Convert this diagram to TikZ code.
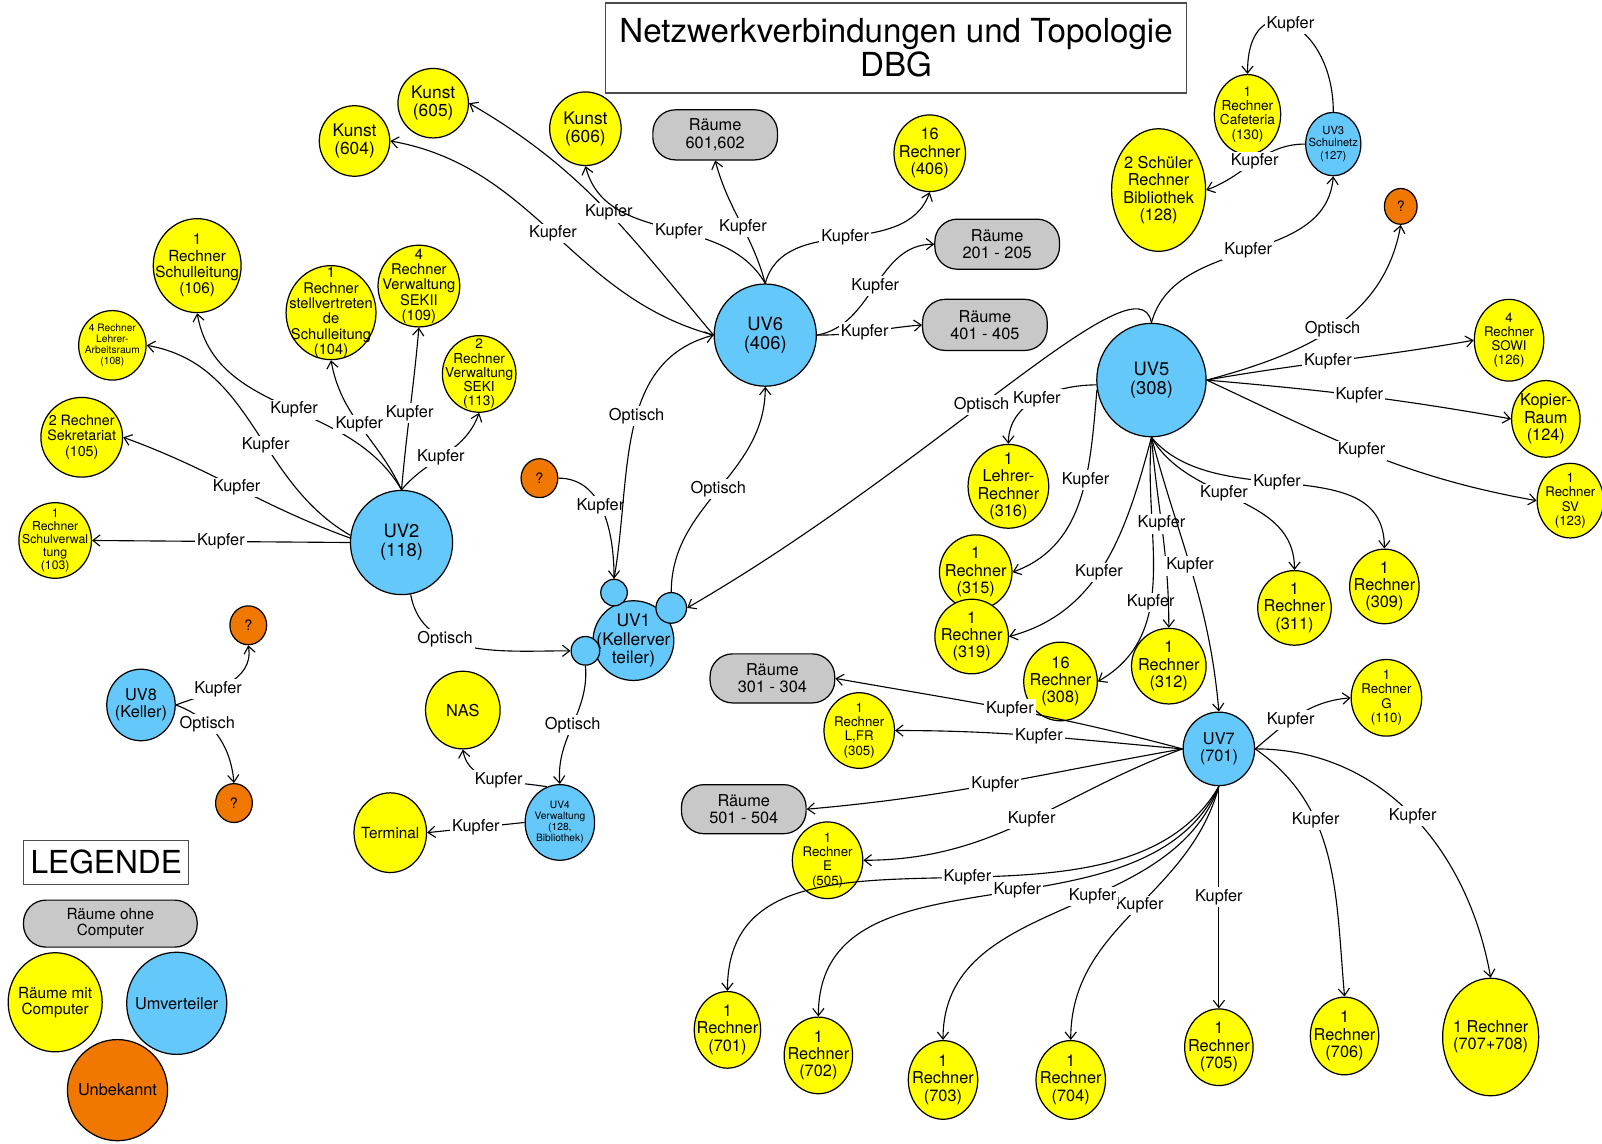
\documentclass[tikz,border=0pt]{standalone}
\usepackage{fontspec}
\setmainfont{TeX Gyre Heros}
\usetikzlibrary{shapes.geometric, arrows.meta}
\definecolor{pcyellow}{RGB}{255,255,0}
\definecolor{uvblue}{RGB}{100,200,250}
\definecolor{unkorange}{RGB}{240,120,0}
\definecolor{roomgray}{RGB}{200,200,200}
\newcommand{\fsz}[2]{\fontsize{#1}{#2}\selectfont}
\tikzset{sz/.style 2 args={minimum width=#1*0.5pt, minimum height=#2*0.5pt}}
\tikzstyle{pc} = [ellipse, draw=black, fill=pcyellow, line width=0.6pt, inner sep=-20pt, align=center, font=\fsz{8}{8.5}]
\tikzstyle{uv} = [pc, fill=uvblue, font=\fsz{9}{9.5}]
\tikzstyle{unk} = [pc, fill=unkorange, font=\fsz{7}{7.5}]
\tikzstyle{room} = [rectangle, rounded corners=11pt, draw=black, fill=roomgray, line width=0.6pt, align=center, font=\fsz{8}{8.5}]
\tikzstyle{boxed} = [rectangle, draw=black!70, line width=0.6pt, align=center]
\tikzstyle{lbl} = [fill=white, inner sep=1pt, font=\fsz{8}{8.5}]
\tikzstyle{link} = [line width=0.55pt, -{Straight Barb[length=3.5pt,width=5.5pt]}]

\begin{document}
\begin{tikzpicture}[x=0.5pt, y=0.5pt]
    \useasboundingbox (0,0) rectangle (1568,-1119);

    % Titel und Legende
    \node[boxed, sz={569}{88}, font=\fsz{16.2}{15.5}] (title)  at (877,-47)   {Netzwerkverbindungen und Topologie\\DBG};
    \node[boxed, sz={158}{43}, font=\fsz{15.5}{16}]   (legend) at (104,-844)  {LEGENDE};
    \node[room, sz={170}{46}, font=\fsz{7.5}{8}]      (leg1)   at (108,-904)  {Räume ohne\\Computer};
    \node[pc, sz={92}{97}, font=\fsz{7.5}{8}]         (leg2)   at (54,-981)   {Räume mit\\Computer};
    \node[uv, sz={98}{100}, font=\fsz{8}{8.5}]        (leg3)   at (173,-982)  {Umverteiler};
    \node[unk, sz={98}{99}, font=\fsz{8}{8.5}]        (leg4)   at (115,-1067) {Unbekannt};

    % Umverteiler
    \node[uv, sz={100}{102}]                          (uv2)  at (393,-531)  {UV2\\(118)};
    \node[uv, sz={100}{100}]                          (uv6)  at (749,-328)  {UV6\\(406)};
    \node[uv, sz={107}{111}]                          (uv5)  at (1127,-372) {UV5\\(308)};
    \node[uv, sz={70}{72}, font=\fsz{8}{8.5}]         (uv7)  at (1193,-733) {UV7\\(701)};
    \node[uv, sz={79}{78}, font=\fsz{8.5}{9}]         (uv1)  at (620,-627)  {UV1\\(Kellerver\\teiler)};
    \node[uv, sz={26}{26}]                            (p1)   at (601,-580)  {};
    \node[uv, sz={30}{30}]                            (p2)   at (657,-595)  {};
    \node[uv, sz={28}{28}]                            (p3)   at (573,-637)  {};
    \node[uv, sz={54}{62}, font=\fsz{5.5}{6}]         (uv3)  at (1305,-141) {UV3\\Schulnetz\\(127)};
    \node[uv, sz={68}{74}, font=\fsz{5}{5.5}]         (uv4)  at (548,-805)  {UV4\\Verwaltung\\(128,\\Bibliothek)};
    \node[uv, sz={67}{70}, font=\fsz{8}{8.5}]         (uv8)  at (138,-690)  {UV8\\(Keller)};

    % Unbekannt
    \node[unk, sz={36}{38}]                           (q1)   at (528,-468)  {?};
    \node[unk, sz={36}{38}]                           (q2)   at (243,-612)  {?};
    \node[unk, sz={36}{38}]                           (q3)   at (229,-786)  {?};
    \node[unk, sz={32}{35}]                           (q4)   at (1371,-202) {?};

    % Räume ohne Computer
    \node[room, sz={122}{49}]                         (r601) at (700,-132)  {Räume\\601,602};
    \node[room, sz={122}{49}]                         (r201) at (976,-239)  {Räume\\201 - 205};
    \node[room, sz={122}{50}]                         (r401) at (964,-318)  {Räume\\401 - 405};
    \node[room, sz={122}{48}]                         (r301) at (756,-664)  {Räume\\301 - 304};
    \node[room, sz={122}{48}]                         (r501) at (728,-792)  {Räume\\501 - 504};

    % Räume mit Computer
    \node[pc, sz={86}{92}, font=\fsz{7.5}{8}]         (s106) at (193,-260)  {1\\Rechner\\Schulleitung\\(106)};
    \node[pc, sz={66}{68}, font=\fsz{5}{5.5}]         (s108) at (110,-338)  {4 Rechner\\Lehrer-\\Arbeitsraum\\(108)};
    \node[pc, sz={88}{92}, font=\fsz{7.2}{7.5}]       (s104) at (324,-306)  {1\\Rechner\\stellvertreten\\de\\Schulleitung\\(104)};
    \node[pc, sz={80}{80}, font=\fsz{7.2}{7.5}]       (s109) at (410,-280)  {4\\Rechner\\Verwaltung\\SEKII\\(109)};
    \node[pc, sz={72}{75}, font=\fsz{6.7}{7}]         (s113) at (469,-366)  {2\\Rechner\\Verwaltung\\SEKI\\(113)};
    \node[pc, sz={80}{78}, font=\fsz{7}{7.5}]         (s105) at (80,-428)   {2 Rechner\\Sekretariat\\(105)};
    \node[pc, sz={71}{74}, font=\fsz{6}{6.3}]         (s103) at (54,-529)   {1\\Rechner\\Schulverwal\\tung\\(103)};
    \node[pc, sz={69}{68}, font=\fsz{8.5}{9}]         (k605) at (424,-101)  {Kunst\\(605)};
    \node[pc, sz={69}{69}, font=\fsz{8.5}{9}]         (k604) at (347,-138)  {Kunst\\(604)};
    \node[pc, sz={70}{72}, font=\fsz{8.5}{9}]         (k606) at (573,-126)  {Kunst\\(606)};
    \node[pc, sz={70}{75}]                            (r406) at (910,-150)  {16\\Rechner\\(406)};
    \node[pc, sz={65}{78}, font=\fsz{6.7}{7}]         (caf)  at (1221,-112) {1\\Rechner\\Cafeteria\\(130)};
    \node[pc, sz={92}{120}]                           (bib)  at (1134,-186) {2 Schüler\\Rechner\\Bibliothek\\(128)};
    \node[pc, sz={68}{80}, font=\fsz{6.5}{7}]         (sowi) at (1477,-333) {4\\Rechner\\SOWI\\(126)};
    \node[pc, sz={67}{75}]                            (kop)  at (1513,-410) {Kopier-\\Raum\\(124)};
    \node[pc, sz={65}{73}, font=\fsz{6.5}{7}]         (sv)   at (1537,-490) {1\\Rechner\\SV\\(123)};
    \node[pc, sz={79}{82}]                            (r316) at (987,-476)  {1\\Lehrer-\\Rechner\\(316)};
    \node[pc, sz={71}{73}]                            (r315) at (955,-560)  {1\\Rechner\\(315)};
    \node[pc, sz={72}{73}]                            (r319) at (951,-623)  {1\\Rechner\\(319)};
    \node[pc, sz={72}{77}]                            (r308) at (1038,-667) {16\\Rechner\\(308)};
    \node[pc, sz={73}{74}]                            (r312) at (1144,-652) {1\\Rechner\\(312)};
    \node[pc, sz={72}{73}]                            (r311) at (1267,-595) {1\\Rechner\\(311)};
    \node[pc, sz={68}{73}]                            (r309) at (1355,-574) {1\\Rechner\\(309)};
    \node[pc, sz={69}{75}, font=\fsz{6.5}{7}]         (g110) at (1357,-683) {1\\Rechner\\G\\(110)};
    \node[pc, sz={69}{74}, font=\fsz{6.5}{7}]         (lfr)  at (841,-715)  {1\\Rechner\\L,FR\\(305)};
    \node[pc, sz={69}{75}, font=\fsz{6.5}{7}]         (e505) at (810,-842)  {1\\Rechner\\E\\(505)};
    \node[pc, sz={65}{75}]                            (r701) at (712,-1008) {1\\Rechner\\(701)};
    \node[pc, sz={67}{75}]                            (r702) at (801,-1033) {1\\Rechner\\(702)};
    \node[pc, sz={68}{77}]                            (r703) at (923,-1057) {1\\Rechner\\(703)};
    \node[pc, sz={68}{77}]                            (r704) at (1048,-1057) {1\\Rechner\\(704)};
    \node[pc, sz={67}{75}]                            (r705) at (1193,-1025) {1\\Rechner\\(705)};
    \node[pc, sz={67}{76}]                            (r706) at (1316,-1014) {1\\Rechner\\(706)};
    \node[pc, sz={94}{115}]                           (r707) at (1459,-1015) {1 Rechner\\(707+708)};
    \node[pc, sz={73}{76}]                            (nas)  at (453,-695)  {NAS};
    \node[pc, sz={71}{78}, font=\fsz{7.5}{8}]         (term) at (382,-815)  {Terminal};

    % UV2
    \draw[link] (uv2.west)  -- node[lbl]{Kupfer} (s103.east);
    \draw[link] (uv2.175)   to[out=160, in=-20] node[lbl, pos=.5]{Kupfer} (s105.east);
    \draw[link] (uv2.172)   to[out=150, in=-10] node[lbl, pos=.42]{Kupfer} (s108.east);
    \draw[link] (uv2.north) to[out=120, in=-80] node[lbl, pos=.47]{Kupfer} (s106.south);
    \draw[link] (uv2.north) to[out=115, in=-80] node[lbl, pos=.52]{Kupfer} (s104.south);
    \draw[link] (uv2.north) to[out=85, in=-95] node[lbl, pos=.47]{Kupfer} (s109.south);
    \draw[link] (uv2.north) to[out=50, in=-110] node[lbl, pos=.45]{Kupfer} (s113.south);
    \draw[link] (uv2.-80)   to[out=-80, in=180] node[lbl, pos=.35]{Optisch} (p3.west);

    % UV1, UV4, UV8
    \draw[link] (q1.east)   to[out=0, in=90] node[lbl, pos=.45]{Kupfer} (p1.north);
    \draw[link] (p1.north)  to[out=80, in=195] node[lbl, pos=.55]{Optisch} (uv6.west);
    \draw[link] (p2.north)  to[out=90, in=-90] node[lbl, pos=.5]{Optisch} (uv6.south);
    \draw[link] (uv5.north) .. controls +(100:70) and +(30:280) .. (p2.east) node[lbl, pos=.55]{Optisch};
    \draw[link] (p3.south)  to[out=-85, in=95] node[lbl, pos=.5]{Optisch} (uv4.north);
    \draw[link] (uv4.110)   to[out=170, in=-80] node[lbl, pos=.45]{Kupfer} (nas.south);
    \draw[link] (uv4.west)  -- node[lbl]{Kupfer} (term.east);
    \draw[link] (uv8.east)  to[out=20, in=-80] node[lbl, pos=.4]{Kupfer} (q2.south);
    \draw[link] (uv8.east)  to[out=-20, in=95] node[lbl, pos=.35]{Optisch} (q3.north);

    % UV6
    \draw[link] (uv6.west)  to[out=165, in=-10] node[lbl, pos=.5]{Kupfer} (k604.east);
    \draw[link] (uv6.west)  to[out=130, in=-30] node[lbl, pos=.47]{Kupfer} (k605.east);
    \draw[link] (uv6.north) to[out=120, in=-75] node[lbl, pos=.45]{Kupfer} (k606.south);
    \draw[link] (uv6.north) to[out=105, in=-75] node[lbl, pos=.45]{Kupfer} (r601.south);
    \draw[link] (uv6.north) to[out=75, in=-110] node[lbl, pos=.5]{Kupfer} (r406.south);
    \draw[link] (uv6.east)  to[out=10, in=180] node[lbl, pos=.5]{Kupfer} (r201.west);
    \draw[link] (uv6.east)  to[out=0, in=185] node[lbl, pos=.45]{Kupfer} (r401.west);

    % UV3
    \draw[link] (uv3.north) to[out=90, in=90, looseness=2.5] node[lbl, pos=.5]{Kupfer} (caf.north);
    \draw[link] (uv3.west)  to[out=180, in=20] node[lbl, pos=.5]{Kupfer} (bib.east);

    % UV5
    \draw[link] (uv5.north) to[out=75, in=-95] node[lbl, pos=.5]{Kupfer} (uv3.south);
    \draw[link] (uv5.east)  to[out=15, in=-100] node[lbl, pos=.5]{Optisch} (q4.south);
    \draw[link] (uv5.east)  to[out=10, in=190] node[lbl, pos=.45]{Kupfer} (sowi.west);
    \draw[link] (uv5.east)  to[out=-5, in=170] node[lbl, pos=.5]{Kupfer} (kop.west);
    \draw[link] (uv5.east)  to[out=-25, in=170] node[lbl, pos=.48]{Kupfer} (sv.west);
    \draw[link] (uv5.185)   to[out=180, in=90] node[lbl, pos=.5]{Kupfer} (r316.north);
    \draw[link] (uv5.190)   to[out=-95, in=20] node[lbl, pos=.4]{Kupfer} (r315.east);
    \draw[link] (uv5.south) to[out=-105, in=15] node[lbl, pos=.55]{Kupfer} (r319.east);
    \draw[link] (uv5.south) to[out=-95, in=30] node[lbl, pos=.6]{Kupfer} (r308.east);
    \draw[link] (uv5.south) to[out=-85, in=90] node[lbl, pos=.45]{Kupfer} (r312.north);
    \draw[link] (uv5.south) to[out=-75, in=95] node[lbl, pos=.47]{Kupfer} (uv7.north);
    \draw[link] (uv5.south) to[out=-60, in=90] node[lbl, pos=.43]{Kupfer} (r311.north);
    \draw[link] (uv5.south) to[out=-50, in=90] node[lbl, pos=.45]{Kupfer} (r309.north);

    % UV7
    \draw[link] (uv7.west)  to[out=165, in=-10] node[lbl, pos=.5]{Kupfer} (r301.east);
    \draw[link] (uv7.west)  to[out=175, in=0] node[lbl, pos=.5]{Kupfer} (lfr.east);
    \draw[link] (uv7.west)  to[out=190, in=5] node[lbl, pos=.5]{Kupfer} (r501.east);
    \draw[link] (uv7.west)  to[out=200, in=0] node[lbl, pos=.48]{Kupfer} (e505.east);
    \draw[link] (uv7.east)  to[out=40, in=185] node[lbl, pos=.4]{Kupfer} (g110.west);
    \draw[link] (uv7.east)  to[out=0, in=100] node[lbl, pos=.5]{Kupfer} (r707.north);
    \draw[link] (uv7.east)  to[out=-35, in=95] node[lbl, pos=.35]{Kupfer} (r706.north);
    \draw[link] (uv7.south) -- node[lbl]{Kupfer} (r705.north);
    \draw[link] (uv7.south) to[out=-105, in=90] node[lbl, pos=.47]{Kupfer} (r704.north);
    \draw[link] (uv7.south) to[out=-110, in=90] node[lbl, pos=.42]{Kupfer} (r703.north);
    \draw[link] (uv7.south) to[out=-115, in=90] node[lbl, pos=.45]{Kupfer} (r702.north);
    \draw[link] (uv7.south) to[out=-120, in=90] node[lbl, pos=.45]{Kupfer} (r701.north);
\end{tikzpicture}
\end{document}
